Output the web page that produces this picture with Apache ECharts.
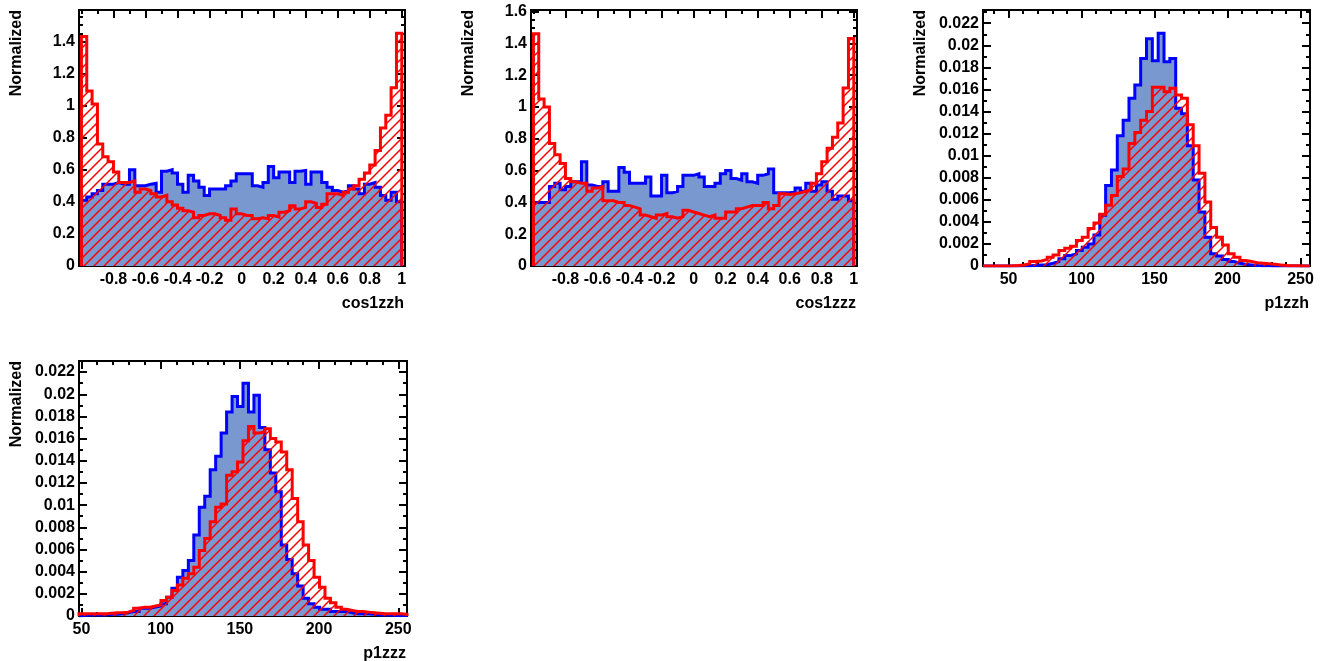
<!DOCTYPE html>
<html><head><meta charset="utf-8">
<script src="https://cdn.jsdelivr.net/npm/echarts@6/dist/echarts.min.js"></script>
<style>html,body{margin:0;padding:0;background:#fff}#c{width:1325px;height:661px}</style>
</head><body><div id="c"></div>
<script>
// ---------- histogram binning ----------
const cosBinMin = -1, cosBinWidth = 1 / 30, cosBinCount = 60;
const p1zzhBinMin = 32.5, p1zzhBinWidth = 4, p1zzhBinCount = 56;
const p1zzzBinMin = 48.5, p1zzzBinWidth = 3.45, p1zzzBinCount = 60;

// ---------- data (bin contents, normalized) ----------
const cos1zzhBlue = [0.41,0.43,0.45,0.47,0.51,0.51,0.52,0.51,0.51,0.60,
  0.50,0.50,0.51,0.515,0.46,0.59,0.60,0.58,0.51,0.46,
  0.565,0.53,0.49,0.44,0.48,0.48,0.48,0.50,0.53,0.575,
  0.575,0.575,0.50,0.49,0.52,0.62,0.55,0.585,0.585,0.52,
  0.59,0.595,0.51,0.585,0.585,0.52,0.49,0.47,0.46,0.47,
  0.50,0.48,0.45,0.51,0.52,0.49,0.44,0.41,0.46,0.40];
const cos1zzhRed = [1.43,1.09,1.01,0.76,0.68,0.65,0.585,0.52,0.52,0.53,
  0.46,0.48,0.47,0.45,0.43,0.44,0.40,0.38,0.36,0.345,
  0.335,0.30,0.315,0.325,0.325,0.315,0.30,0.285,0.355,0.325,
  0.315,0.315,0.295,0.30,0.295,0.315,0.305,0.335,0.345,0.375,
  0.355,0.365,0.40,0.39,0.365,0.385,0.45,0.45,0.44,0.46,
  0.48,0.50,0.54,0.58,0.63,0.72,0.86,0.94,1.11,1.45];
const cos1zzzBlue = [0.40,0.40,0.40,0.50,0.52,0.48,0.50,0.53,0.53,0.655,
  0.51,0.50,0.50,0.53,0.47,0.47,0.62,0.59,0.52,0.52,
  0.52,0.56,0.44,0.44,0.57,0.46,0.47,0.50,0.57,0.57,
  0.58,0.56,0.50,0.50,0.52,0.58,0.60,0.55,0.54,0.58,
  0.53,0.52,0.57,0.58,0.61,0.46,0.46,0.46,0.47,0.49,
  0.47,0.52,0.47,0.51,0.53,0.47,0.42,0.44,0.44,0.41];
const cos1zzzRed = [1.46,1.05,1.00,0.77,0.70,0.645,0.55,0.53,0.52,0.52,
  0.47,0.49,0.50,0.41,0.41,0.40,0.40,0.38,0.37,0.36,
  0.32,0.31,0.30,0.32,0.33,0.31,0.30,0.31,0.35,0.34,
  0.33,0.32,0.31,0.32,0.30,0.30,0.34,0.34,0.36,0.37,
  0.38,0.38,0.38,0.40,0.36,0.38,0.455,0.45,0.455,0.46,
  0.47,0.48,0.52,0.58,0.655,0.74,0.81,0.90,1.12,1.43];
const p1zzhBlue = [0,0,0,0,0,0,0.00002,0.00003,0.00005,0.00008,
  0.00012,0.00025,0.0004,0.00065,0.00095,0.0011,0.0014,0.0017,0.002,0.0028,
  0.0046,0.0073,0.0087,0.0118,0.0132,0.0152,0.0164,0.0188,0.0206,0.0186,
  0.0211,0.0185,0.0188,0.0143,0.0138,0.0109,0.0078,0.0049,0.0026,0.0011,
  0.0009,0.0006,0.0004,0.00025,0.00015,0.0001,0.00005,0.00003,0.00002,0.00001,
  0,0,0,0,0,0];
const p1zzhRed = [0,0,0,0.00001,0.00002,0.00005,0.0001,0.0002,0.0004,0.00045,
  0.0006,0.0008,0.001,0.0014,0.0016,0.0018,0.0023,0.0026,0.0034,0.0039,
  0.0047,0.0055,0.0064,0.0081,0.0088,0.0111,0.0121,0.0132,0.014,0.0162,
  0.0162,0.0158,0.0161,0.0155,0.0152,0.0128,0.0109,0.0084,0.0058,0.0035,
  0.0026,0.0019,0.0011,0.0008,0.0005,0.0004,0.0003,0.00025,0.0002,0.00015,
  0.0001,0.00005,0.00003,0.00002,0.00001,0.00001];
const p1zzzBlue = [0.00005,0.0001,0.0001,0.0001,0.0001,0.00015,0.00015,0.0002,0.0003,0.0004,
  0.0004,0.0007,0.0007,0.0008,0.0009,0.0011,0.0017,0.0025,0.0035,0.0041,
  0.005,0.0073,0.0098,0.0108,0.0132,0.0144,0.0165,0.0184,0.0198,0.0189,
  0.021,0.0184,0.0199,0.017,0.015,0.0129,0.0112,0.0064,0.0051,0.0038,
  0.0027,0.0016,0.0011,0.0008,0.0006,0.0006,0.0004,0.0004,0.0004,0.0003,
  0.0002,0.0002,0.0002,0.00015,0.0001,0.0001,0.0001,0.00005,0.00005,0.00005];
const p1zzzRed = [0.0002,0.0002,0.0002,0.0002,0.0002,0.00025,0.0003,0.0003,0.00035,0.0005,
  0.0007,0.0008,0.0008,0.0009,0.001,0.0014,0.0017,0.0023,0.0028,0.0034,
  0.0038,0.0044,0.0059,0.007,0.0085,0.0098,0.0101,0.0127,0.013,0.0139,
  0.0158,0.0171,0.0165,0.0166,0.0169,0.016,0.0157,0.0148,0.0132,0.0106,
  0.0085,0.0064,0.005,0.0035,0.0026,0.0016,0.0012,0.0008,0.0006,0.0005,
  0.0004,0.0004,0.00035,0.0003,0.00025,0.0002,0.0002,0.0002,0.0002,0.00015];

// ---------- tick labels ----------
const cosXTicks = [-0.8,-0.6,-0.4,-0.2,0,0.2,0.4,0.6,0.8,1];
const cosYTicks = [0,0.2,0.4,0.6,0.8,1,1.2,1.4,1.6];
const pXTicks = [50,100,150,200,250];
const pYTicks = [0,0.002,0.004,0.006,0.008,0.01,0.012,0.014,0.016,0.018,0.02,0.022];

// ---------- helpers ----------
const FONT = "'Liberation Sans', Arial, Helvetica, sans-serif";
const BLUE_FILL = '#7a98d0';
function minorTicks(from, to, step) {
  const out = [];
  const n = Math.round((to - from) / step);
  for (let i = 0; i <= n; i++) out.push(Math.round((from + i * step) * 1e7) / 1e7);
  return out;
}
function stepData(binMin, binWidth, vals) {
  const d = [[binMin, 0]];
  for (let i = 0; i < vals.length; i++) d.push([binMin + i * binWidth, vals[i]]);
  d.push([binMin + vals.length * binWidth, 0]);
  return d;
}
function hatchPattern() {
  const s = 10;
  const c = document.createElement('canvas');
  c.width = s; c.height = s;
  const g = c.getContext('2d');
  g.strokeStyle = '#ff0000';
  g.lineWidth = 1.5;
  g.beginPath();
  g.moveTo(-2, s + 2); g.lineTo(s + 2, -2);
  g.moveTo(-2, 2); g.lineTo(2, -2);
  g.moveTo(s - 2, s + 2); g.lineTo(s + 2, s - 2);
  g.stroke();
  return c;
}
const fmt = v => String(parseFloat(Number(v).toFixed(6)));

const panels = [
  {rect:{left:79, top:10, width:326, height:256}, xMin:-1.015, xMax:1.02, yMax:1.595, xName:'cos1zzh',
   binMin:cosBinMin, binWidth:cosBinWidth, blue:cos1zzhBlue, red:cos1zzhRed,
   xTicks:cosXTicks, yTicks:cosYTicks, xMinor:minorTicks(-1,1,0.1), yMinor:minorTicks(0,1.6,0.05)},
  {rect:{left:531, top:10, width:326, height:256}, xMin:-1.015, xMax:1.02, yMax:1.61, xName:'cos1zzz',
   binMin:cosBinMin, binWidth:cosBinWidth, blue:cos1zzzBlue, red:cos1zzzRed,
   xTicks:cosXTicks, yTicks:cosYTicks, xMinor:minorTicks(-1,1,0.1), yMinor:minorTicks(0,1.6,0.05)},
  {rect:{left:983, top:10, width:327, height:256}, xMin:32.5, xMax:256.5, yMax:0.0232, xName:'p1zzh',
   binMin:p1zzhBinMin, binWidth:p1zzhBinWidth, blue:p1zzhBlue, red:p1zzhRed,
   xTicks:pXTicks, yTicks:pYTicks, xMinor:minorTicks(40,250,10), yMinor:minorTicks(0,0.023,0.001)},
  {rect:{left:79, top:361, width:328, height:255}, xMin:48.5, xMax:255.5, yMax:0.0230, xName:'p1zzz',
   binMin:p1zzzBinMin, binWidth:p1zzzBinWidth, blue:p1zzzBlue, red:p1zzzRed,
   xTicks:pXTicks, yTicks:pYTicks, xMinor:minorTicks(50,250,10), yMinor:minorTicks(0,0.023,0.001)}
];

const hatch = hatchPattern();
const grid = [], xAxis = [], yAxis = [], series = [];
const labelStyle = {color:'#000', fontFamily:FONT, fontWeight:'bold', fontSize:16};

panels.forEach((p, k) => {
  grid.push(Object.assign({show:true, borderColor:'#000', borderWidth:2, backgroundColor:'#fff',
    containLabel:false, outerBoundsMode:'none'}, p.rect));
  const xi = xAxis.length, yi = yAxis.length;
  const tickMaj = (vals) => ({show:true, inside:true, length:8, customValues:vals, lineStyle:{color:'#000', width:2}});
  const tickMin = (vals) => ({show:true, inside:true, length:4, customValues:vals, lineStyle:{color:'#000', width:2}});
  const base = {gridIndex:k, type:'value', splitLine:{show:false}, axisLine:{show:false, onZero:false}, silent:true};
  // x axes
  xAxis.push(Object.assign({}, base, {position:'bottom', min:p.xMin, max:p.xMax,
    axisTick:tickMaj(p.xTicks),
    axisLabel:Object.assign({show:true, customValues:p.xTicks, margin:6, formatter:fmt}, labelStyle),
    name:p.xName, nameLocation:'end', nameGap:-1, nameMoveOverlap:false,
    nameTextStyle:Object.assign({align:'right', verticalAlign:'top', padding:[30,0,0,0], lineHeight:16}, labelStyle)}));
  xAxis.push(Object.assign({}, base, {position:'bottom', min:p.xMin, max:p.xMax, axisTick:tickMin(p.xMinor), axisLabel:{show:false}}));
  xAxis.push(Object.assign({}, base, {position:'top', min:p.xMin, max:p.xMax, axisTick:tickMaj(p.xTicks), axisLabel:{show:false}}));
  xAxis.push(Object.assign({}, base, {position:'top', min:p.xMin, max:p.xMax, axisTick:tickMin(p.xMinor), axisLabel:{show:false}}));
  // y axes
  yAxis.push(Object.assign({}, base, {position:'left', min:0, max:p.yMax,
    axisTick:tickMaj(p.yTicks),
    axisLabel:Object.assign({show:true, customValues:p.yTicks, margin:4, formatter:fmt}, labelStyle),
    name:'Normalized', nameLocation:'end', nameGap:0, nameRotate:90, nameMoveOverlap:false,
    nameTextStyle:Object.assign({align:'right', verticalAlign:'bottom', padding:[0,0,54,0], lineHeight:16}, labelStyle)}));
  yAxis.push(Object.assign({}, base, {position:'left', min:0, max:p.yMax, axisTick:tickMin(p.yMinor), axisLabel:{show:false}}));
  yAxis.push(Object.assign({}, base, {position:'right', min:0, max:p.yMax, axisTick:tickMaj(p.yTicks), axisLabel:{show:false}}));
  yAxis.push(Object.assign({}, base, {position:'right', min:0, max:p.yMax, axisTick:tickMin(p.yMinor), axisLabel:{show:false}}));

  series.push({type:'line', xAxisIndex:xi, yAxisIndex:yi, step:'end', symbol:'none', silent:true,
    data:stepData(p.binMin, p.binWidth, p.blue), z:2,
    lineStyle:{color:'#0000ff', width:3, join:'miter'}, areaStyle:{color:BLUE_FILL, opacity:1}});
  series.push({type:'line', xAxisIndex:xi, yAxisIndex:yi, step:'end', symbol:'none', silent:true,
    data:stepData(p.binMin, p.binWidth, p.red), z:3,
    lineStyle:{color:'#ff0000', width:3, join:'miter'}, areaStyle:{color:{image:hatch, repeat:'repeat'}, opacity:1}});
});

const chart = echarts.init(document.getElementById('c'), null, {renderer:'canvas'});
chart.setOption({animation:false, backgroundColor:'#fff', grid, xAxis, yAxis, series});
</script>
</body></html>
